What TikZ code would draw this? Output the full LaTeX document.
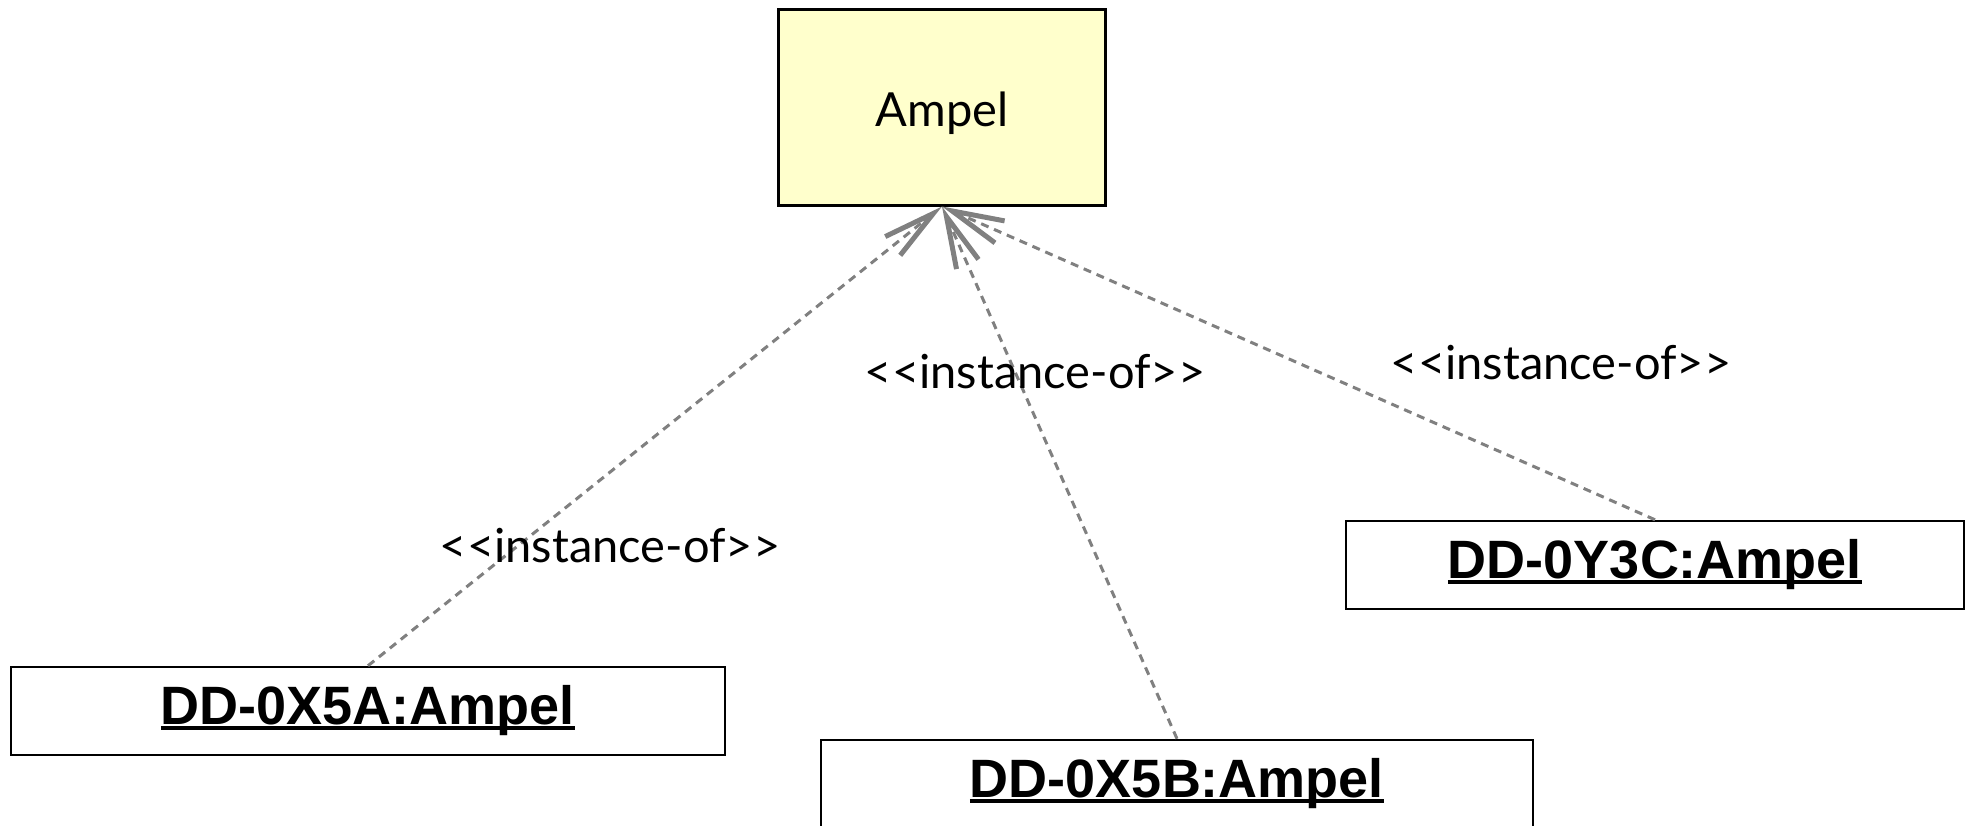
\documentclass[tikz,border=0pt]{standalone}
\usepackage{fontspec}
\setmainfont{Lato}
\newfontfamily\objfont{Liberation Sans}
\usetikzlibrary{arrows.meta}
\definecolor{classfill}{HTML}{FFFFCC}
\definecolor{linkgray}{HTML}{808080}
\newcommand\ulname[1]{\setbox0\hbox{#1}\rlap{\rule[-5pt]{\wd0}{3.5pt}}\box0}
\newcommand\instof{<\kern0pt<instance-of>\kern0pt>}
\tikzset{
  classbox/.style={draw=black, line width=3pt, fill=classfill, minimum width=327pt, minimum height=196pt, inner sep=0pt,
    font=\fontsize{47}{56}\selectfont},
  objbox/.style={draw=black, line width=2.5pt, fill=white, minimum height=88pt, inner sep=0pt,
    font=\objfont\bfseries\fontsize{54}{64}\selectfont},
  instlink/.style={draw=linkgray, line width=3pt, dash pattern=on 8pt off 6pt,
    -{Straight Barb[length=52pt, width=24pt, line width=5pt, color=linkgray]}},
  linklabel/.style={font=\fontsize{47}{56}\selectfont, inner sep=0pt}
}
\begin{document}
\begin{tikzpicture}[x=1pt, y=-1pt]
\useasboundingbox (0,0) rectangle (1969,825);
\node[classbox] (ampel) at (942,107) {};
\node[font=\fontsize{47}{56}\selectfont, inner sep=0pt] (ampeltxt) at (942,113) {Ampel};
\node[objbox, minimum width=714pt] (a) at (368,711) {\ulname{DD-0X5A:Ampel}};
\node[objbox, minimum width=712pt] (b) at (1177,784) {\ulname{DD-0X5B:Ampel}};
\node[objbox, minimum width=618pt] (c) at (1655,565) {\ulname{DD-0Y3C:Ampel}};
\draw[instlink] (a.north) -- (ampel.south);
\draw[instlink] (b.north) -- (ampel.south);
\draw[instlink] (c.north) -- (ampel.south);
\node[linklabel] (la) at (610,546) {\instof};
\node[linklabel] (lb) at (1035,372) {\instof};
\node[linklabel] (lc) at (1561,363) {\instof};
\end{tikzpicture}
\end{document}
